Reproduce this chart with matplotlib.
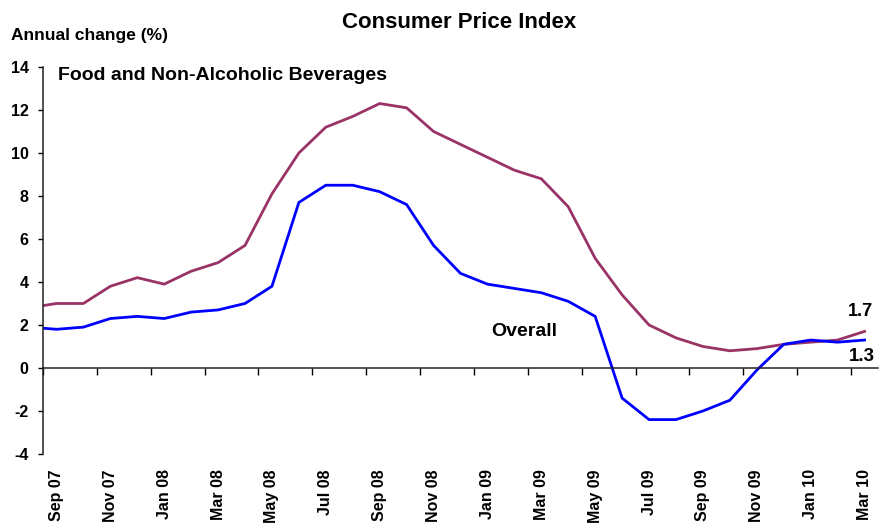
import numpy as np
import matplotlib
matplotlib.use("Agg")
import matplotlib.pyplot as plt

plt.rcParams['font.family'] = ['Liberation Sans', 'DejaVu Sans']
plt.rcParams['font.weight'] = 'bold'
plt.rcParams['axes.unicode_minus'] = False

# Monthly series, Aug 07 to Mar 10 (Aug 07 sits just left of the visible range)
months = ["Aug 07", "Sep 07", "Oct 07", "Nov 07", "Dec 07",
          "Jan 08", "Feb 08", "Mar 08", "Apr 08", "May 08", "Jun 08",
          "Jul 08", "Aug 08", "Sep 08", "Oct 08", "Nov 08", "Dec 08",
          "Jan 09", "Feb 09", "Mar 09", "Apr 09", "May 09", "Jun 09",
          "Jul 09", "Aug 09", "Sep 09", "Oct 09", "Nov 09", "Dec 09",
          "Jan 10", "Feb 10", "Mar 10"]
overall = [1.9, 1.8, 1.9, 2.3, 2.4, 2.3, 2.6, 2.7, 3.0, 3.8, 7.7, 8.5,
           8.5, 8.2, 7.6, 5.7, 4.4, 3.9, 3.7, 3.5, 3.1, 2.4, -1.4, -2.4,
           -2.4, -2.0, -1.5, -0.1, 1.1, 1.3, 1.2, 1.3]
food = [2.8, 3.0, 3.0, 3.8, 4.2, 3.9, 4.5, 4.9, 5.7, 8.1, 10.0, 11.2,
        11.7, 12.3, 12.1, 11.0, 10.4, 9.8, 9.2, 8.8, 7.5, 5.1, 3.4, 2.0,
        1.4, 1.0, 0.8, 0.9, 1.1, 1.2, 1.3, 1.7]
yticks = [-4, -2, 0, 2, 4, 6, 8, 10, 12, 14]

x = np.arange(len(months))

fig = plt.figure(figsize=(8.81, 5.29), dpi=100)
ax = fig.add_axes([0.0488, 0.1418, 0.9478, 0.7316])

ax.plot(x, food, color="#993366", lw=2.0, solid_joinstyle="miter")
ax.plot(x, overall, color="#0000FF", lw=2.0, solid_joinstyle="miter")

ax.set_xlim(0.5, len(months) - 0.5)
ax.set_ylim(-4, 14)

# Axes lines: y axis on the left, x axis through zero
for s in ("top", "right"):
    ax.spines[s].set_visible(False)
ax.spines["bottom"].set_position(("data", 0))
ax.spines["left"].set_linewidth(1.1)
ax.spines["bottom"].set_linewidth(1.1)
ax.spines["left"].set_color("#222222")
ax.spines["bottom"].set_color("#222222")

ax.set_yticks(yticks)
ax.set_yticklabels([str(v) for v in yticks])
ax.tick_params(axis="y", direction="out", length=3.8, width=1.0,
               pad=6.5, labelsize=11.5)

# Tick marks at category boundaries every two months
ax.set_xticks(np.arange(0.5, len(months) - 1, 2))
ax.set_xticklabels([])
ax.tick_params(axis="x", direction="out", length=4.8, width=1.0)

# Month labels along the bottom of the plot
label_pos = x[1::2]
sec = ax.secondary_xaxis(0)
sec.set_xticks(label_pos)
sec.set_xticklabels([months[i] for i in label_pos], rotation=90,
                    fontsize=11.5, fontweight="bold")
sec.tick_params(length=0, pad=11)
sec.spines["bottom"].set_visible(False)

W, H = 881, 529


def ftext(px, py, s, **kw):
    fig.text(px / W, 1 - py / H, s, **kw)


ftext(459, 28.5, "Consumer Price Index", ha="center", va="baseline",
      fontsize=16, fontweight="bold")
ftext(11, 40, "Annual change (%)", ha="left", va="baseline",
      fontsize=12.5, fontweight="bold")
ftext(58, 80, "Food and Non-Alcoholic Beverages", ha="left", va="baseline",
      fontsize=14, fontweight="bold")
ftext(491, 336.5, "Overall", ha="left", va="baseline",
      fontsize=14, fontweight="bold")
ftext(848, 316.5, f"{food[-1]:.1f}", ha="left", va="baseline",
      fontsize=13, fontweight="bold")
ftext(849, 361, f"{overall[-1]:.1f}", ha="left", va="baseline",
      fontsize=13.5, fontweight="bold")

fig.savefig("out.png", dpi=100)
